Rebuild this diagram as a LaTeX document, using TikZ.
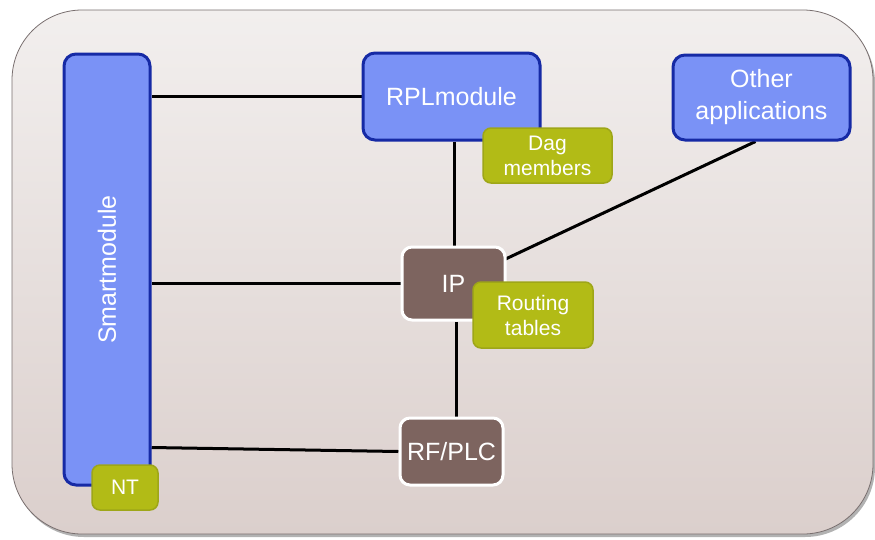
\documentclass[tikz,border=0pt]{standalone}
\usepackage{fontspec}
\setmainfont{Liberation Sans}
\usetikzlibrary{calc}
\pgfdeclarelayer{back}
\pgfdeclarelayer{lines}
\pgfsetlayers{back,lines,main}
\definecolor{bgtop}{RGB}{242,239,238}
\definecolor{bgbot}{RGB}{219,207,204}
\definecolor{bgline}{RGB}{120,110,110}
\definecolor{bluefill}{RGB}{122,146,246}
\definecolor{blueline}{RGB}{22,42,165}
\definecolor{greenfill}{RGB}{178,187,22}
\definecolor{greenline}{RGB}{158,166,24}
\definecolor{brownfill}{RGB}{125,100,95}
\tikzset{
  bluebox/.style={draw=blueline, line width=3pt, fill=bluefill, rounded corners=12pt,
    text=white, font=\fontsize{25}{32}\selectfont, align=center, inner sep=0pt},
  greenbox/.style={draw=greenline, line width=1.5pt, fill=greenfill, rounded corners=8pt,
    text=white, font=\fontsize{21}{25}\selectfont, align=center, inner sep=0pt},
  brownbox/.style={draw=white, line width=3pt, fill=brownfill, rounded corners=10pt,
    text=white, font=\fontsize{25}{30}\selectfont, align=center, inner sep=0pt},
  link/.style={draw=black, line width=3pt}
}
\begin{document}
\begin{tikzpicture}[x=1pt,y=-1pt]
\useasboundingbox (0,0) rectangle (875,539);
% background
\begin{pgfonlayer}{back}
\fill[gray!60, rounded corners=70pt] (14,13) rectangle (875,537);
\draw[bgline, line width=0.8pt, top color=bgtop, bottom color=bgbot, rounded corners=70pt] (12,10) rectangle (873,534);
\end{pgfonlayer}
% main nodes
\node[bluebox, minimum width=86pt, minimum height=431pt] (sm) at (107,269.5) {};
\node[text=white, font=\fontsize{25}{30}\selectfont, rotate=90] (smlabel) at (sm) {Smartmodule};
\node[bluebox, minimum width=177pt, minimum height=87pt] (rpl) at (451.5,96.5) {RPLmodule};
\node[bluebox, minimum width=177pt, minimum height=85pt] (other) at (761.5,97.5) {Other\\applications};
\node[brownbox, minimum width=103pt, minimum height=73pt] (ip) at (453.5,283.5) {IP};
\node[brownbox, minimum width=103pt, minimum height=67pt] (rf) at (451.5,451.5) {RF/PLC};
% small boxes
\node[greenbox, minimum width=66pt, minimum height=45pt] (nt) at (125,487.5) {NT};
\node[greenbox, minimum width=129pt, minimum height=55pt] (dag) at (547.5,155.5) {Dag\\members};
\node[greenbox, minimum width=120pt, minimum height=66pt] (rt) at (533,315) {Routing\\tables};
% connectors
\begin{pgfonlayer}{lines}
\draw[link] (rpl.west) -- (rpl.west -| sm.east);
\draw[link] (ip.west) -- (ip.west -| sm.east);
\draw[link] (rf.west) -- ($(sm.east |- rf.west)+(0,-4)$);
\draw[link] ($(rpl.south)+(3,0)$) -- ($(ip.north)+(1,0)$);
\draw[link] ($(ip.south)+(3,0)$) -- ($(rf.north)+(5,0)$);
\draw[link] (ip.center) -- ($(other.south)+(-6,0)$);
\end{pgfonlayer}
\end{tikzpicture}
\end{document}
